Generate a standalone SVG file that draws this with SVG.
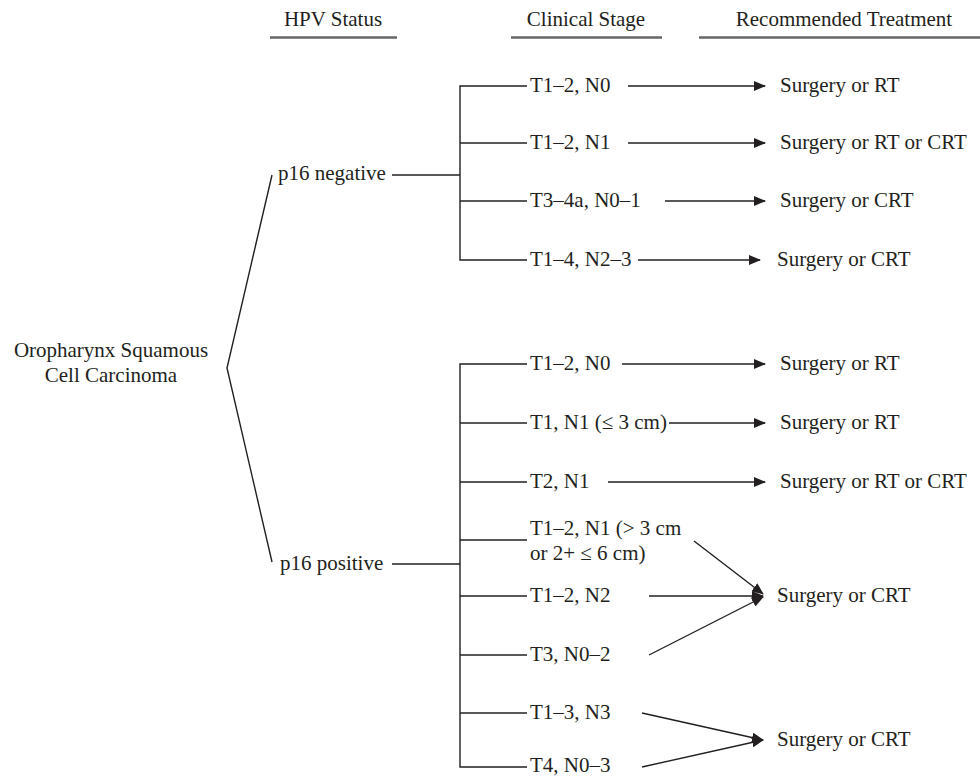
<svg xmlns="http://www.w3.org/2000/svg" width="980" height="777" viewBox="0 0 980 777">
<defs>
<style>
text{font-family:"Liberation Serif","Times New Roman",serif;font-size:21px;fill:#231f20}
.hd{text-anchor:middle}
.ul{stroke:#666;stroke-width:2.5;fill:none}
.ln{stroke:#231f20;stroke-width:1.4;fill:none}
.ar{stroke:#231f20;stroke-width:1.4;fill:none;marker-end:url(#ah)}
</style>
<marker id="ah" viewBox="0 0 12 10" refX="11" refY="5" markerWidth="12" markerHeight="10" markerUnits="userSpaceOnUse" orient="auto">
<path d="M0,0 L12,5 L0,10 Z" fill="#231f20"/>
</marker>
</defs>
<rect width="980" height="777" fill="#fff"/>
<g id="headers">
<text class="hd" x="333" y="26">HPV Status</text>
<line class="ul" x1="270" y1="37.5" x2="397" y2="37.5"/>
<text class="hd" x="586" y="26">Clinical Stage</text>
<line class="ul" x1="511" y1="37.5" x2="662" y2="37.5"/>
<text class="hd" x="844" y="26">Recommended Treatment</text>
<line class="ul" x1="699" y1="37.5" x2="980" y2="37.5"/>
</g>
<g id="root">
<text class="hd" x="111" y="357">Oropharynx Squamous</text>
<text class="hd" x="111" y="382">Cell Carcinoma</text>
</g>
<g id="p16neg"><text x="278" y="180">p16 negative</text></g>
<g id="p16pos"><text x="280" y="570">p16 positive</text></g>
<g id="stages-neg">
<text x="530" y="92">T1–2, N0</text>
<text x="530" y="149">T1–2, N1</text>
<text x="530" y="207">T3–4a, N0–1</text>
<text x="530" y="266">T1–4, N2–3</text>
</g>
<g id="stages-pos">
<text x="530" y="370">T1–2, N0</text>
<text x="530" y="429">T1, N1 (≤ 3 cm)</text>
<text x="530" y="488">T2, N1</text>
<text x="530" y="535">T1–2, N1 (&gt; 3 cm</text>
<text x="530" y="560">or 2+ ≤ 6 cm)</text>
<text x="530" y="602">T1–2, N2</text>
<text x="530" y="661">T3, N0–2</text>
<text x="530" y="719">T1–3, N3</text>
<text x="530" y="772">T4, N0–3</text>
</g>
<g id="treatments">
<text x="780" y="92">Surgery or RT</text>
<text x="780" y="149">Surgery or RT or CRT</text>
<text x="780" y="207">Surgery or CRT</text>
<text x="777" y="266">Surgery or CRT</text>
<text x="780" y="370">Surgery or RT</text>
<text x="780" y="429">Surgery or RT</text>
<text x="780" y="488">Surgery or RT or CRT</text>
<text x="777" y="602">Surgery or CRT</text>
<text x="777" y="746">Surgery or CRT</text>
</g>
<g id="connectors">
<polyline class="ln" points="272,175 227,368 272,562"/>
<line class="ln" x1="392" y1="175" x2="460" y2="175"/>
<polyline class="ln" points="527,86 460,86 460,260 527,260"/>
<line class="ln" x1="460" y1="143" x2="527" y2="143"/>
<line class="ln" x1="460" y1="201" x2="527" y2="201"/>
<line class="ln" x1="392" y1="564" x2="460" y2="564"/>
<polyline class="ln" points="527,364 460,364 460,767 527,767"/>
<line class="ln" x1="460" y1="423" x2="527" y2="423"/>
<line class="ln" x1="460" y1="482" x2="527" y2="482"/>
<line class="ln" x1="460" y1="540" x2="527" y2="540"/>
<line class="ln" x1="460" y1="596" x2="527" y2="596"/>
<line class="ln" x1="460" y1="655" x2="527" y2="655"/>
<line class="ln" x1="460" y1="713" x2="527" y2="713"/>
<line class="ar" x1="628" y1="86" x2="765" y2="86"/>
<line class="ar" x1="628" y1="143" x2="765" y2="143"/>
<line class="ar" x1="665" y1="201" x2="765" y2="201"/>
<line class="ar" x1="638" y1="260" x2="760" y2="260"/>
<line class="ar" x1="622" y1="364" x2="765" y2="364"/>
<line class="ar" x1="669" y1="423" x2="765" y2="423"/>
<line class="ar" x1="608" y1="482" x2="765" y2="482"/>
<line class="ar" x1="694" y1="541" x2="763" y2="594"/>
<line class="ar" x1="649" y1="596" x2="763" y2="596"/>
<line class="ar" x1="649" y1="655" x2="763" y2="597"/>
<line class="ar" x1="642" y1="713" x2="763" y2="740"/>
<line class="ar" x1="642" y1="767" x2="763" y2="740"/>
</g>
</svg>
